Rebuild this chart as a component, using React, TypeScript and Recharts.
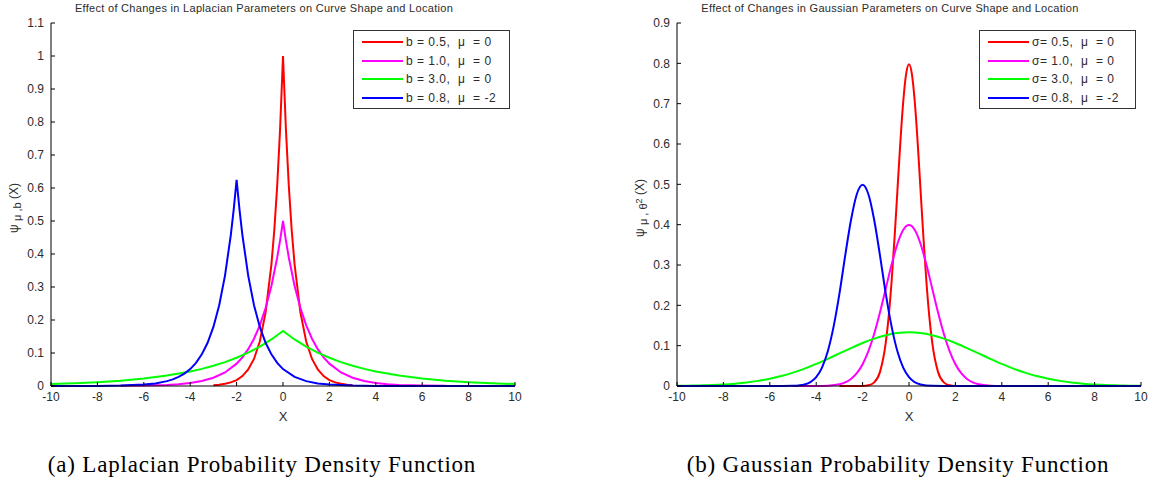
import React from 'react';
import { LineChart, Line, XAxis, YAxis } from 'recharts';

const xTicks = [-10, -8, -6, -4, -2, 0, 2, 4, 6, 8, 10];
const laplaceYTicks = [0, 0.1, 0.2, 0.3, 0.4, 0.5, 0.6, 0.7, 0.8, 0.9, 1, 1.1];
const gaussYTicks = [0, 0.1, 0.2, 0.3, 0.4, 0.5, 0.6, 0.7, 0.8, 0.9];

// Laplacian panel
const lapRedX = [-3, -2.75, -2.5, -2.25, -2, -1.75, -1.5, -1.25, -1, -0.75, -0.5, -0.375, -0.25, -0.125, 0, 0.125, 0.25, 0.375, 0.5, 0.75, 1, 1.25, 1.5, 1.75, 2, 2.25, 2.5, 2.75, 3];
const lapRedY = [0.002, 0.004, 0.007, 0.011, 0.018, 0.03, 0.05, 0.082, 0.135, 0.223, 0.368, 0.472, 0.607, 0.779, 1.0, 0.779, 0.607, 0.472, 0.368, 0.223, 0.135, 0.082, 0.05, 0.03, 0.018, 0.011, 0.007, 0.004, 0.002];

const lapMagX = [-7, -6, -5, -4.5, -4, -3.5, -3, -2.5, -2, -1.75, -1.5, -1.25, -1, -0.75, -0.5, -0.25, -0.125, 0, 0.125, 0.25, 0.5, 0.75, 1, 1.25, 1.5, 1.75, 2, 2.5, 3, 3.5, 4, 4.5, 5, 6, 7];
const lapMagY = [0.0005, 0.0012, 0.0034, 0.0056, 0.0092, 0.0151, 0.0249, 0.041, 0.0677, 0.0869, 0.1116, 0.1433, 0.1839, 0.2362, 0.3033, 0.3894, 0.4412, 0.5, 0.4412, 0.3894, 0.3033, 0.2362, 0.1839, 0.1433, 0.1116, 0.0869, 0.0677, 0.041, 0.0249, 0.0151, 0.0092, 0.0056, 0.0034, 0.0012, 0.0005];

const lapGreenX = [-10, -9, -8, -7, -6, -5, -4, -3.5, -3, -2.5, -2, -1.5, -1, -0.5, 0, 0.5, 1, 1.5, 2, 2.5, 3, 3.5, 4, 5, 6, 7, 8, 9, 10];
const lapGreenY = [0.0059, 0.0083, 0.0116, 0.0162, 0.0226, 0.0315, 0.0439, 0.0519, 0.0613, 0.0724, 0.0856, 0.1011, 0.1194, 0.1411, 0.1667, 0.1411, 0.1194, 0.1011, 0.0856, 0.0724, 0.0613, 0.0519, 0.0439, 0.0315, 0.0226, 0.0162, 0.0116, 0.0083, 0.0059];

const lapBlueX = [-10, -9, -8, -7, -6, -5.5, -5, -4.75, -4.5, -4.25, -4, -3.75, -3.5, -3.25, -3, -2.75, -2.5, -2.25, -2.125, -2, -1.875, -1.75, -1.5, -1.25, -1, -0.75, -0.5, -0.25, 0, 0.5, 1, 1.5, 2, 3, 4, 6, 10];
const lapBlueY = [0, 0.0001, 0.0003, 0.0012, 0.0042, 0.0079, 0.0147, 0.0201, 0.0275, 0.0375, 0.0513, 0.0701, 0.0959, 0.131, 0.1791, 0.2448, 0.3346, 0.4573, 0.5346, 0.625, 0.5346, 0.4573, 0.3346, 0.2448, 0.1791, 0.131, 0.0959, 0.0701, 0.0513, 0.0275, 0.0147, 0.0079, 0.0042, 0.0012, 0.0003, 0, 0];

// Gaussian panel
const gRedX = [-3, -2, -1.75, -1.5, -1.25, -1, -0.875, -0.75, -0.625, -0.5, -0.375, -0.25, -0.125, 0, 0.125, 0.25, 0.375, 0.5, 0.625, 0.75, 0.875, 1, 1.25, 1.5, 1.75, 2, 3];
const gRedY = [0, 0.0003, 0.0017, 0.0089, 0.035, 0.108, 0.1726, 0.2591, 0.3653, 0.4839, 0.6023, 0.7041, 0.7734, 0.7979, 0.7734, 0.7041, 0.6023, 0.4839, 0.3653, 0.2591, 0.1726, 0.108, 0.035, 0.0089, 0.0017, 0.0003, 0];

const gMagX = [-5, -4, -3.5, -3, -2.75, -2.5, -2.25, -2, -1.75, -1.5, -1.25, -1, -0.75, -0.5, -0.25, 0, 0.25, 0.5, 0.75, 1, 1.25, 1.5, 1.75, 2, 2.25, 2.5, 2.75, 3, 3.5, 4, 5];
const gMagY = [0, 0.0001, 0.0009, 0.0044, 0.0091, 0.0175, 0.0317, 0.054, 0.0863, 0.1295, 0.1826, 0.242, 0.3011, 0.3521, 0.3867, 0.3989, 0.3867, 0.3521, 0.3011, 0.242, 0.1826, 0.1295, 0.0863, 0.054, 0.0317, 0.0175, 0.0091, 0.0044, 0.0009, 0.0001, 0];

const gGreenX = [-10, -9.5, -9, -8.5, -8, -7.5, -7, -6.5, -6, -5.5, -5, -4.5, -4, -3.5, -3, -2.5, -2, -1.5, -1, -0.5, 0, 0.5, 1, 1.5, 2, 2.5, 3, 3.5, 4, 4.5, 5, 5.5, 6, 6.5, 7, 7.5, 8, 8.5, 9, 9.5, 10];
const gGreenY = [0.0005, 0.0009, 0.0015, 0.0023, 0.0037, 0.0058, 0.0087, 0.0127, 0.018, 0.0247, 0.0332, 0.0431, 0.0547, 0.0674, 0.0807, 0.094, 0.1065, 0.1174, 0.1257, 0.1312, 0.133, 0.1312, 0.1257, 0.1174, 0.1065, 0.094, 0.0807, 0.0674, 0.0547, 0.0431, 0.0332, 0.0247, 0.018, 0.0127, 0.0087, 0.0058, 0.0037, 0.0023, 0.0015, 0.0009, 0.0005];

const gBlueX = [-10, -6, -5.5, -5, -4.75, -4.5, -4.25, -4, -3.75, -3.5, -3.25, -3, -2.75, -2.5, -2.25, -2, -1.75, -1.5, -1.25, -1, -0.75, -0.5, -0.25, 0, 0.5, 1, 1.5, 2, 10];
const gBlueY = [0, 0, 0, 0.0004, 0.0014, 0.0038, 0.0096, 0.0219, 0.0456, 0.086, 0.1471, 0.2283, 0.3234, 0.4115, 0.4754, 0.4987, 0.4754, 0.4115, 0.3234, 0.2283, 0.1471, 0.086, 0.0456, 0.0219, 0.0038, 0.0004, 0, 0, 0];

const colors = ['#ff0000', '#ff00ff', '#00ff00', '#0000ff'];
const laplaceNames = ['b = 0.5,  \u03bc  = 0', 'b = 1.0,  \u03bc  = 0', 'b = 3.0,  \u03bc  = 0', 'b = 0.8,  \u03bc  = -2'];
const gaussNames = ['\u03c3= 0.5,  \u03bc  = 0', '\u03c3= 1.0,  \u03bc  = 0', '\u03c3= 3.0,  \u03bc  = 0', '\u03c3= 0.8,  \u03bc  = -2'];

const SANS = '"Liberation Sans", Arial, Helvetica, sans-serif';
const TEXT = '#2b2b2b';

interface Series {
  name: string;
  color: string;
  xs: number[];
  ys: number[];
}

interface PanelProps {
  left: number;
  width: number;
  yMax: number;
  yTicks: number[];
  series: Series[];
  curve: 'linear' | 'monotone';
}

function Panel({ left, width, yMax, yTicks, series, curve }: PanelProps) {
  const tickStyle = { fill: TEXT, fontSize: 12, fontFamily: SANS };
  return (
    <div style={{ position: 'absolute', left, top: 0 }}>
      <LineChart width={width} height={420} margin={{ top: 23, right: width - 51 - 464, left: 0, bottom: 14 }}>
        <XAxis
          dataKey="x"
          type="number"
          domain={[-10, 10]}
          ticks={xTicks}
          interval={0}
          height={20}
          tickSize={-4}
          tickMargin={10}
          stroke="#000"
          tick={tickStyle}
        />
        <YAxis
          type="number"
          domain={[0, yMax]}
          ticks={yTicks}
          interval={0}
          width={51}
          tickSize={-4}
          tickMargin={11}
          stroke="#000"
          tick={tickStyle}
        />
        {series.map((s) => (
          <Line
            key={s.name}
            data={s.xs.map((x, i) => ({ x, y: s.ys[i] }))}
            dataKey="y"
            name={s.name}
            type={curve}
            stroke={s.color}
            strokeWidth={2}
            dot={false}
            activeDot={false}
            isAnimationActive={false}
          />
        ))}
      </LineChart>
    </div>
  );
}

function LegendBox({ left, names }: { left: number; names: string[] }) {
  return (
    <div
      style={{
        position: 'absolute', left, top: 30, width: 155, height: 77,
        border: '1px solid #333', background: '#fff', fontFamily: SANS, fontSize: 12, color: TEXT,
      }}
    >
      {names.map((n, i) => (
        <div key={n} style={{ position: 'absolute', left: 0, top: 2 + i * 18.7, height: 18, display: 'flex', alignItems: 'center' }}>
          <span style={{ display: 'inline-block', marginLeft: 8, width: 41, height: 2, background: colors[i] }} />
          <span style={{ marginLeft: 3, whiteSpace: 'pre', letterSpacing: 0.5 }}>{n}</span>
        </div>
      ))}
    </div>
  );
}

export default function App() {
  const lapSeries: Series[] = [
    { name: laplaceNames[0], color: colors[0], xs: lapRedX, ys: lapRedY },
    { name: laplaceNames[1], color: colors[1], xs: lapMagX, ys: lapMagY },
    { name: laplaceNames[2], color: colors[2], xs: lapGreenX, ys: lapGreenY },
    { name: laplaceNames[3], color: colors[3], xs: lapBlueX, ys: lapBlueY },
  ];
  const gaussSeries: Series[] = [
    { name: gaussNames[0], color: colors[0], xs: gRedX, ys: gRedY },
    { name: gaussNames[1], color: colors[1], xs: gMagX, ys: gMagY },
    { name: gaussNames[2], color: colors[2], xs: gGreenX, ys: gGreenY },
    { name: gaussNames[3], color: colors[3], xs: gBlueX, ys: gBlueY },
  ];

  const abs = (x: number, y: number): React.CSSProperties => ({
    position: 'absolute', left: x, top: y, transform: 'translate(-50%, -50%)', whiteSpace: 'nowrap',
  });
  const small: React.CSSProperties = { fontFamily: SANS, fontSize: 11, color: TEXT };
  const caption: React.CSSProperties = {
    fontFamily: '"Liberation Serif", "Times New Roman", serif', fontSize: 23, letterSpacing: 0.8, color: '#000',
  };

  return (
    <div style={{ position: 'absolute', left: 0, top: 0, width: 1151, height: 482, background: '#fff', overflow: 'hidden' }}>
      <Panel left={0} width={560} yMax={1.1} yTicks={laplaceYTicks} series={lapSeries} curve="linear" />
      <Panel left={626} width={525} yMax={0.9} yTicks={gaussYTicks} series={gaussSeries} curve="monotone" />

      <div style={{ ...abs(264, 8), ...small, letterSpacing: 0.3 }}>Effect of Changes in Laplacian Parameters on Curve Shape and Location</div>
      <div style={{ ...abs(890, 8), ...small, letterSpacing: 0.3 }}>Effect of Changes in Gaussian Parameters on Curve Shape and Location</div>

      <LegendBox left={353} names={laplaceNames} />
      <LegendBox left={979} names={gaussNames} />

      <div style={{ ...abs(15, 208), ...small, fontSize: 12, transform: 'translate(-50%, -50%) rotate(-90deg)' }}>
        {'\u03c8 '}<sub style={{ fontSize: 11 }}>{'\u03bc ,b'}</sub>{' (X)'}
      </div>
      <div style={{ ...abs(641, 208), ...small, fontSize: 12, transform: 'translate(-50%, -50%) rotate(-90deg)' }}>
        {'\u03c8 '}<sub style={{ fontSize: 11 }}>{'\u03bc , \u03b8'}<sup style={{ fontSize: 9 }}>2</sup></sub>{' (X)'}
      </div>

      <div style={{ ...abs(283, 416), ...small, fontSize: 13 }}>X</div>
      <div style={{ ...abs(909, 416), ...small, fontSize: 13 }}>X</div>

      <div style={{ ...abs(262, 465), ...caption }}>(a) Laplacian Probability Density Function</div>
      <div style={{ ...abs(898, 465), ...caption }}>(b) Gaussian Probability Density Function</div>
    </div>
  );
}
